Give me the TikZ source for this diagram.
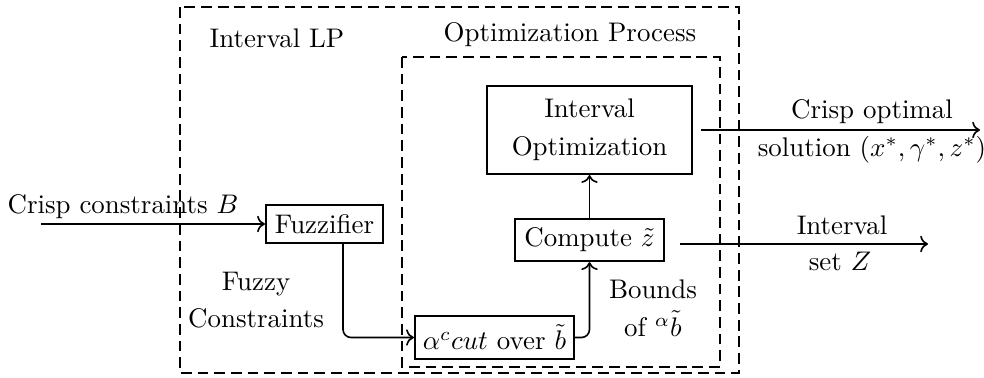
\documentclass[tikz,border=0pt]{standalone}
\usetikzlibrary{arrows.meta}
\begin{document}
\begin{tikzpicture}[x=0.3717pt,y=-0.3717pt,
  blk/.style={draw,thick,align=center},
  grp/.style={draw,thick,dash pattern=on 4pt off 2.2pt},
  conn/.style={semithick,->},
  lbl/.style={align=center,inner sep=0pt}]
\useasboundingbox (0,0) rectangle (984,377);
% group frames
\draw[grp] (180,7) rectangle (739,373);
\draw[grp] (402,57) rectangle (720,367);
\node[lbl] (tlp) at (277,38) {Interval LP};
\node[lbl] (top) at (570,35) {Optimization Process};
% blocks
\node[blk,minimum width=76.2pt,minimum height=32.7pt] (io) at (589.5,130) {Interval\\[2pt]Optimization};
\node[blk,minimum width=55pt,minimum height=15.6pt] (cz) at (589.5,240) {Compute $\tilde z$};
\node[blk,minimum width=59.1pt,minimum height=16pt,inner xsep=2pt] (ac) at (494.5,337.5) {$\alpha^c cut$ over $\tilde b$};
\node[blk,minimum width=43.5pt,minimum height=13.4pt,inner xsep=2pt] (fz) at (324.5,224) {Fuzzifier};
% free ends
\coordinate (cin) at (41,224);
\coordinate (o1s) at (701,130);
\coordinate (o1e) at (980,130);
\coordinate (o2s) at (680,244);
\coordinate (o2e) at (928,244);
% connectors
\draw[conn] (cin) -- (fz.west);
\node[lbl] (lcin) at (123,207) {Crisp constraints $B$};
\draw[conn,rounded corners=3pt] (fz.south -| 343,0) -- (343,337.5) -- (ac.west);
\node[lbl] (lfz) at (256,300) {Fuzzy\\[2pt]Constraints};
\draw[conn,rounded corners=3pt] (ac.east) -- (cz.south |- ac.east) -- (cz.south);
\node[lbl] (lbd) at (653,308) {Bounds\\[2pt]of ${}^{\alpha}\tilde b$};
\draw[conn] (cz.north) -- (io.south);
\draw[conn] (o1s) -- (o1e);
\node[lbl] (lo1a) at (872,112) {Crisp optimal};
\node[lbl] (lo1b) at (872,150) {solution $(x^*,\gamma^*,z^*)$};
\draw[conn] (o2s) -- (o2e);
\node[lbl] (lo2a) at (842,225) {Interval};
\node[lbl] (lo2b) at (840,261) {set $Z$};
\end{tikzpicture}
\end{document}
